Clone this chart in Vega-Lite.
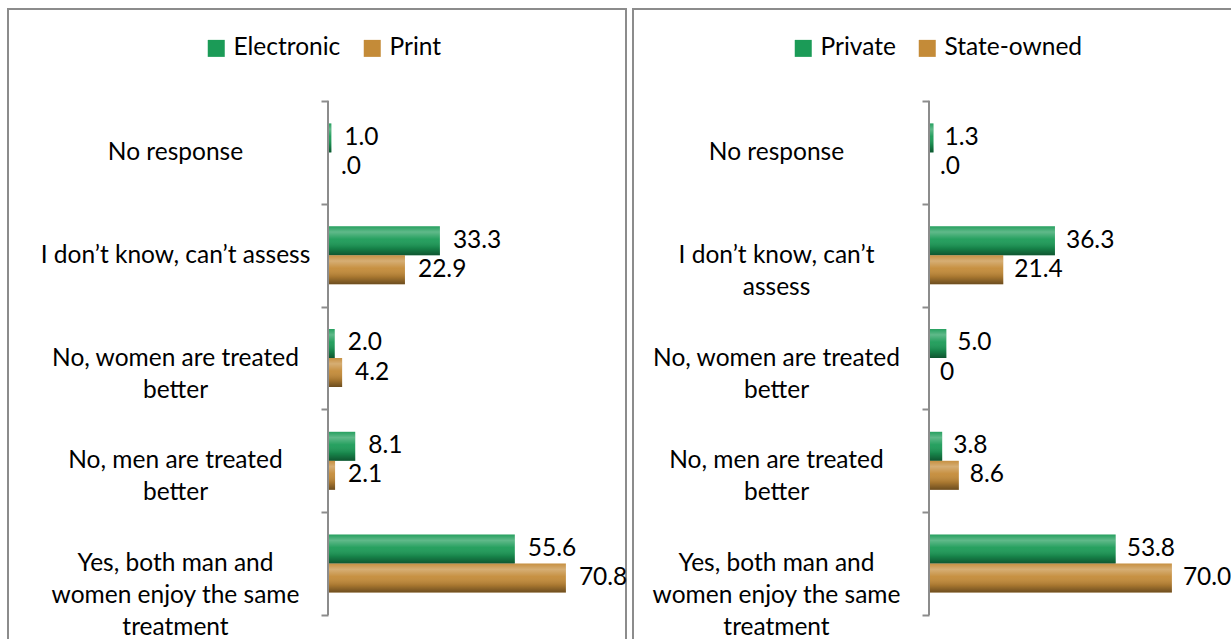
{
  "$schema": "https://vega.github.io/schema/vega-lite/v6.json",
  "padding": {"left": 7, "top": 8, "right": 0, "bottom": 0},
  "background": "white",
  "config": {
    "font": "Lato",
    "view": {"stroke": "#8c8c8c", "strokeWidth": 2},
    "concat": {"spacing": 3}
  },
  "datasets": {
    "left": [
      {"order": 1, "cat": "No response", "series": "Electronic", "value": 1.0, "label": "1.0"},
      {"order": 1, "cat": "No response", "series": "Print", "value": 0, "label": ".0"},
      {"order": 2, "cat": "I don’t know, can’t assess", "series": "Electronic", "value": 33.3, "label": "33.3"},
      {"order": 2, "cat": "I don’t know, can’t assess", "series": "Print", "value": 22.9, "label": "22.9"},
      {"order": 3, "cat": "No, women are treated|better", "series": "Electronic", "value": 2.0, "label": "2.0"},
      {"order": 3, "cat": "No, women are treated|better", "series": "Print", "value": 4.2, "label": "4.2"},
      {"order": 4, "cat": "No, men are treated|better", "series": "Electronic", "value": 8.1, "label": "8.1"},
      {"order": 4, "cat": "No, men are treated|better", "series": "Print", "value": 2.1, "label": "2.1"},
      {"order": 5, "cat": "Yes, both man and|women enjoy the same|treatment", "series": "Electronic", "value": 55.6, "label": "55.6"},
      {"order": 5, "cat": "Yes, both man and|women enjoy the same|treatment", "series": "Print", "value": 70.8, "label": "70.8"}
    ],
    "right": [
      {"order": 1, "cat": "No response", "series": "Private", "value": 1.3, "label": "1.3"},
      {"order": 1, "cat": "No response", "series": "State-owned", "value": 0, "label": ".0"},
      {"order": 2, "cat": "I don’t know, can’t|assess", "series": "Private", "value": 36.3, "label": "36.3"},
      {"order": 2, "cat": "I don’t know, can’t|assess", "series": "State-owned", "value": 21.4, "label": "21.4"},
      {"order": 3, "cat": "No, women are treated|better", "series": "Private", "value": 5.0, "label": "5.0"},
      {"order": 3, "cat": "No, women are treated|better", "series": "State-owned", "value": 0, "label": "0"},
      {"order": 4, "cat": "No, men are treated|better", "series": "Private", "value": 3.8, "label": "3.8"},
      {"order": 4, "cat": "No, men are treated|better", "series": "State-owned", "value": 8.6, "label": "8.6"},
      {"order": 5, "cat": "Yes, both man and|women enjoy the same|treatment", "series": "Private", "value": 53.8, "label": "53.8"},
      {"order": 5, "cat": "Yes, both man and|women enjoy the same|treatment", "series": "State-owned", "value": 70.0, "label": "70.0"}
    ]
  },
  "resolve": {"scale": {"color": "independent", "yOffset": "independent", "x": "independent", "y": "independent"}, "legend": {"color": "independent"}},
  "hconcat": [
    {
      "width": 618,
      "height": 698,
      "data": {"name": "left"},
      "encoding": {
        "y": {
          "field": "cat", "type": "nominal",
          "sort": {"field": "order", "op": "min"},
          "scale": {"paddingInner": 0, "paddingOuter": 0.895},
          "axis": {
            "title": null, "orient": "left", "offset": -320, "domain": false,
            "tickColor": "#8c8c8c", "tickWidth": 2, "tickSize": 7, "tickBand": "extent",
            "labelExpr": "isValid(datum.value) ? split(datum.value, '|') : ''",
            "labelAlign": "center", "labelBaseline": "middle", "labelPadding": 146,
            "labelFontSize": {"condition": {"test": "!isValid(datum.value)", "value": 0}, "value": 24.5},
            "labelColor": "#000000", "labelLimit": 0,
            "labelLineHeight": 32, "labelOverlap": false
          }
        }
      },
      "layer": [
        {
          "mark": {"type": "bar"},
          "encoding": {
            "x": {"field": "value", "type": "quantitative", "scale": {"domain": [-95.24, 88.69], "nice": false}, "axis": null},
            "yOffset": {"field": "series", "type": "nominal", "scale": {"paddingInner": 0, "paddingOuter": 0.772}},
            "color": {
              "field": "series", "type": "nominal",
              "scale": {"domain": ["Electronic", "Print"], "range": ["#1b9b57", "#c48b38"]},
              "legend": {
                "title": null, "orient": "none", "direction": "horizontal",
                "legendX": 196, "legendY": 27,
                "symbolType": "square", "symbolSize": 289, "symbolStrokeWidth": 0,
                "labelFontSize": 24.5, "labelColor": "#000000", "labelOffset": 5,
                "columnPadding": 19, "padding": 0
              }
            }
          }
        },
        {
          "mark": {
            "type": "bar",
            "fill": {
              "gradient": "linear", "x1": 0, "y1": 0, "x2": 0, "y2": 1,
              "stops": [
                {"offset": 0, "color": "rgba(255,255,255,0.05)"},
                {"offset": 0.2, "color": "rgba(255,255,255,0.3)"},
                {"offset": 0.45, "color": "rgba(255,255,255,0.05)"},
                {"offset": 0.75, "color": "rgba(0,0,0,0.15)"},
                {"offset": 1, "color": "rgba(0,0,0,0.45)"}
              ]
            }
          },
          "encoding": {
            "x": {"field": "value", "type": "quantitative"},
            "yOffset": {"field": "series", "type": "nominal"}
          }
        },
        {
          "mark": {"type": "text", "align": "left", "baseline": "middle", "dx": 13, "fontSize": 24.5, "color": "#000000"},
          "encoding": {
            "x": {"field": "value", "type": "quantitative"},
            "yOffset": {"field": "series", "type": "nominal"},
            "text": {"field": "label"}
          }
        },
        {
          "mark": {"type": "tick", "orient": "vertical", "size": 103, "thickness": 2, "color": "#8c8c8c", "opacity": 1},
          "encoding": {
            "x": {"datum": 0, "type": "quantitative"}
          }
        }
      ]
    },
    {
      "width": 618,
      "height": 698,
      "data": {"name": "right"},
      "encoding": {
        "y": {
          "field": "cat", "type": "nominal",
          "sort": {"field": "order", "op": "min"},
          "scale": {"paddingInner": 0, "paddingOuter": 0.895},
          "axis": {
            "title": null, "orient": "left", "offset": -296, "domain": false,
            "tickColor": "#8c8c8c", "tickWidth": 2, "tickSize": 7, "tickBand": "extent",
            "labelExpr": "isValid(datum.value) ? split(datum.value, '|') : ''",
            "labelAlign": "center", "labelBaseline": "middle", "labelPadding": 146,
            "labelFontSize": {"condition": {"test": "!isValid(datum.value)", "value": 0}, "value": 24.5},
            "labelColor": "#000000", "labelLimit": 0,
            "labelLineHeight": 32, "labelOverlap": false
          }
        }
      },
      "layer": [
        {
          "mark": {"type": "bar"},
          "encoding": {
            "x": {"field": "value", "type": "quantitative", "scale": {"domain": [-85.3, 92.8], "nice": false}, "axis": null},
            "yOffset": {"field": "series", "type": "nominal", "scale": {"paddingInner": 0, "paddingOuter": 0.772}},
            "color": {
              "field": "series", "type": "nominal",
              "scale": {"domain": ["Private", "State-owned"], "range": ["#1b9b57", "#c48b38"]},
              "legend": {
                "title": null, "orient": "none", "direction": "horizontal",
                "legendX": 158, "legendY": 27,
                "symbolType": "square", "symbolSize": 289, "symbolStrokeWidth": 0,
                "labelFontSize": 24.5, "labelColor": "#000000", "labelOffset": 5,
                "columnPadding": 19, "padding": 0
              }
            }
          }
        },
        {
          "mark": {
            "type": "bar",
            "fill": {
              "gradient": "linear", "x1": 0, "y1": 0, "x2": 0, "y2": 1,
              "stops": [
                {"offset": 0, "color": "rgba(255,255,255,0.05)"},
                {"offset": 0.2, "color": "rgba(255,255,255,0.3)"},
                {"offset": 0.45, "color": "rgba(255,255,255,0.05)"},
                {"offset": 0.75, "color": "rgba(0,0,0,0.15)"},
                {"offset": 1, "color": "rgba(0,0,0,0.45)"}
              ]
            }
          },
          "encoding": {
            "x": {"field": "value", "type": "quantitative"},
            "yOffset": {"field": "series", "type": "nominal"}
          }
        },
        {
          "mark": {"type": "text", "align": "left", "baseline": "middle", "dx": 11, "fontSize": 24.5, "color": "#000000"},
          "encoding": {
            "x": {"field": "value", "type": "quantitative"},
            "yOffset": {"field": "series", "type": "nominal"},
            "text": {"field": "label"}
          }
        },
        {
          "mark": {"type": "tick", "orient": "vertical", "size": 103, "thickness": 2, "color": "#8c8c8c", "opacity": 1},
          "encoding": {
            "x": {"datum": 0, "type": "quantitative"}
          }
        }
      ]
    }
  ]
}
